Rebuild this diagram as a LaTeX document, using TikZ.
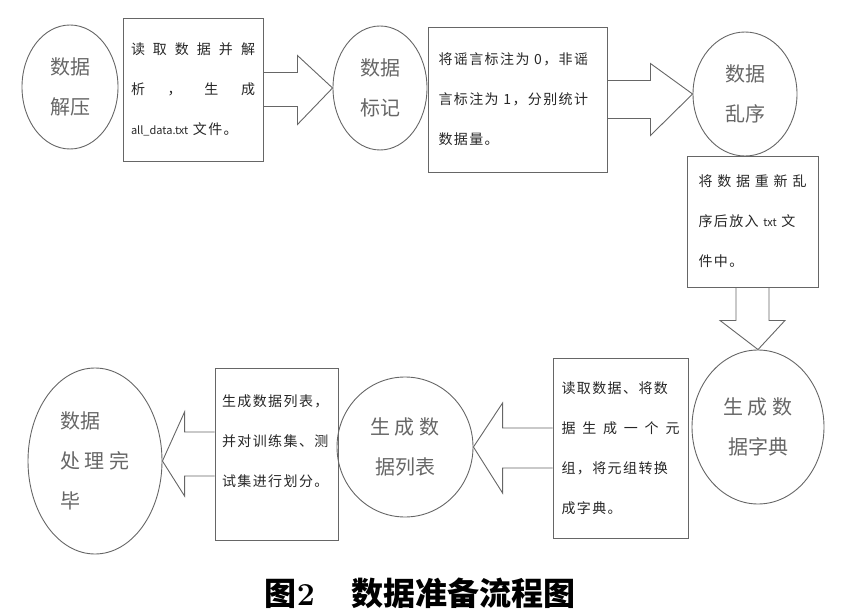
\documentclass[tikz,border=0pt]{standalone}
\usepackage{fontspec}
\newfontfamily\cjk{Noto Sans CJK SC}
\newfontfamily\boxcjk{Noto Sans CJK SC}[LetterSpace=10]
\newcommand{\smalllat}[1]{{\cjk\fontsize{11}{40}\selectfont #1}}
\usetikzlibrary{positioning,shapes.geometric,calc}

\begin{document}
\begin{tikzpicture}[x=1pt, y=-1pt,
                    stepnode/.style={ellipse, draw=black!60, line width=0.9pt, text=black!60, inner sep=0pt, align=center, font=\cjk\fontsize{20}{40}\selectfont},
                    notebox/.style={rectangle, draw=black!60, line width=0.9pt, text=black!85, inner sep=0pt, align=left, font=\boxcjk\fontsize{14}{40}\selectfont},
                    fatarrow/.style={draw=black!60, line width=0.9pt, line join=miter},
                ]
                    \useasboundingbox (0,0) rectangle (853,612);

                    %Nodes
                    \node[stepnode, minimum width=96pt, minimum height=124pt](jieya) at (70,87) {数据\\解压};
                    \node[notebox, minimum width=140pt, minimum height=143pt, text width=124pt](readbox) at (193,89.5) {读\hfill 取\hfill 数\hfill 据\hfill 并\hfill 解\\析\hfill ，\hfill 生\hfill 成\\\smalllat{all\_data.txt} 文件。};
                    \node[stepnode, minimum width=94pt, minimum height=124pt](biaoji) at (380,88) {数据\\标记};
                    \node[notebox, minimum width=179pt, minimum height=145pt, text width=158pt](labelbox) at (517.5,99.5) {将谣言标注为 0，非谣\\言标注为 1，分别统计\\数据量。};
                    \node[stepnode, minimum width=104pt, minimum height=124pt](luanxu) at (745,94) {数据\\乱序};
                    \node[notebox, minimum width=131pt, minimum height=131pt, text width=108pt](shufbox) at (752.5,221.5) {\mbox{}\\[-28pt]将\hfill 数\hfill 据\hfill 重\hfill 新\hfill 乱\\序后放入 \smalllat{txt} 文\\件中。};
                    \node[stepnode, minimum width=132pt, minimum height=154pt](zidian) at (758,427) {生 成 数\\据字典};
                    \node[notebox, minimum width=135pt, minimum height=180pt, text width=118pt](dictbox) at (620.5,448) {读取数据、将数\\据\hfill 生\hfill 成\hfill 一\hfill 个\hfill 元\\组，将元组转换\\成字典。};
                    \node[stepnode, minimum width=136pt, minimum height=140pt](liebiao) at (405,447) {生 成 数\\据列表};
                    \node[notebox, minimum width=123pt, minimum height=172pt, text width=109pt](listbox) at (276.5,454) {生成数据列表，\\并对训练集、测\\试集进行划分。\\[-14pt]\mbox{}};
                    \node[stepnode, minimum width=134pt, minimum height=186pt, align=left](wancheng) at (95,461) {数据\\处 理 完\\毕};
                    \node[font=\cjk\bfseries\fontsize{32}{36}\selectfont](caption) at (420,593) {图{\rmfamily\bfseries 2}\hspace{36pt}数据准备流程图};

                    %Lines
                    \draw[fatarrow] ($(readbox.east)+(0,-17)$) -- ++(34,0) -- ++(0,-17) -- (biaoji.west) -- ($(readbox.east)+(34,35)$) -- ++(0,-18) -- ($(readbox.east)+(0,17)$);
                    \draw[fatarrow] ($(labelbox.east)+(0,-19)$) -- ++(43,0) -- ++(0,-17) -- (luanxu.west) -- ($(labelbox.east)+(43,36)$) -- ++(0,-17) -- ($(labelbox.east)+(0,19)$);
                    \draw[fatarrow] ($(shufbox.south)+(-16.5,0)$) -- ++(0,33) -- ++(-16,0) -- (zidian.north) -- ($(shufbox.south)+(32.5,33)$) -- ++(-16,0) -- ($(shufbox.south)+(16.5,0)$);
                    \draw[fatarrow] ($(dictbox.west)+(0,-20)$) -- ++(-50,0) -- ++(0,-25) -- (liebiao.east) -- ($(dictbox.west)+(-50,45)$) -- ++(0,-25) -- ($(dictbox.west)+(0,20)$);
                    \draw[fatarrow] ($(listbox.west)+(0,-22)$) -- ++(-30,0) -- ++(0,-20) -- (wancheng.east) -- ($(listbox.west)+(-30,42)$) -- ++(0,-20) -- ($(listbox.west)+(0,22)$);
                \end{tikzpicture}
\end{document}
